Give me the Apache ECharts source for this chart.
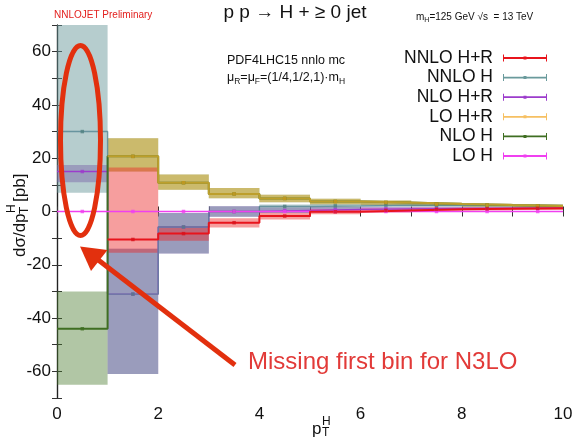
<!DOCTYPE html>
<html>
<head>
<meta charset="utf-8">
<script src="https://cdn.jsdelivr.net/npm/echarts@6/dist/echarts.min.js"></script>
<style>
  html, body { margin: 0; padding: 0; background: #fff; }
  #chart { width: 576px; height: 438px; }
</style>
</head>
<body>
<div id="chart"></div>
<script>
// bins in pT^H (GeV)
const binEdges = [0, 1, 2, 3, 4, 5, 6, 7, 8, 9, 10];

// NNLO H+R (no first bin)
const nnloHR   = [null, -10.5, -8.3, -4.2, -1.7, -0.1, 0.4, 0.8, 1.0, 1.2];
const nnloHRLo = [null, -15.5, -11, -6, -3, -1, -0.4, 0.1, 0.4, 0.6];
const nnloHRHi = [null, 16.5, -5.5, -2.5, -0.5, 0.8, 1.1, 1.4, 1.5, 1.7];

// NNLO H
const nnloH   = [30, -31, -5.8, 0, 1.9, 2.1, 2.4, 2.3, 2.2, 2.0];
const nnloHLo = [7, -61, -15.8, -2, -0.6, 1.0, 1.6, 1.7, 1.7, 1.6];
const nnloHHi = [90, -14, -0.6, 2, 2.6, 2.8, 3.0, 2.9, 2.8, 2.6];

// NLO H+R
const nloHR   = [15, -31, -5.8, 0, 0.4, 0.8, 1.0, 1.1, 1.2, 1.3];
const nloHRLo = [11, -61, -15.8, -2, -0.6, 0.2, 0.5, 0.7, 0.8, 0.9];
const nloHRHi = [17.5, -14, -0.6, 2, 1.5, 1.7, 1.7, 1.7, 1.7, 1.7];

// LO H+R (no first bin)
const loHR   = [null, 20.7, 10.8, 6.6, 4.9, 3.75, 3.4, 2.8, 2.4, 2.1];
const loHRLo = [null, 15, 8.2, 5.0, 3.5, 2.7, 2.5, 2.1, 1.9, 1.7];
const loHRHi = [null, 27.5, 13.9, 8.8, 6.3, 4.8, 4.1, 3.4, 2.9, 2.6];

// NLO H
const nloH   = [-44, 20.7, 10.8, 6.6, 4.9, 3.75, 3.4, 2.8, 2.4, 2.1];
const nloHLo = [-65, 15, 8.2, 5.0, 3.5, 2.7, 2.5, 2.1, 1.9, 1.7];
const nloHHi = [-30, 27.5, 13.9, 8.8, 6.3, 4.8, 4.1, 3.4, 2.9, 2.6];

// LO H
const loH = [0, 0, 0, 0, 0, 0, 0, 0, 0, 0];

const xTicks = [0, 2, 4, 6, 8, 10];
const yTicks = [-60, -40, -20, 0, 20, 40, 60];

const FONT = "'Liberation Sans', Arial, Helvetica, sans-serif";

function stepData(vals) {
  const pts = [];
  vals.forEach((v, i) => {
    if (v == null) return;
    pts.push([binEdges[i], v], [binEdges[i + 1], v]);
  });
  return pts;
}
function pointData(vals) {
  const pts = [];
  vals.forEach((v, i) => {
    if (v == null) return;
    pts.push([(binEdges[i] + binEdges[i + 1]) / 2, v]);
  });
  return pts;
}
function bandData(lo, hi) {
  const out = [];
  lo.forEach((l, i) => {
    if (l == null) return;
    out.push([binEdges[i], binEdges[i + 1], l, hi[i]]);
  });
  return out;
}

function bandSeries(name, lo, hi, fill, z) {
  return {
    name: name,
    type: 'custom',
    z: z,
    silent: true,
    data: bandData(lo, hi),
    encode: { x: [0, 1], y: [2, 3] },
    renderItem: function (params, api) {
      const p0 = api.coord([api.value(0), api.value(3)]);
      const p1 = api.coord([api.value(1), api.value(2)]);
      const rect = echarts.graphic.clipRectByRect(
        { x: p0[0], y: p0[1], width: p1[0] - p0[0], height: p1[1] - p0[1] },
        { x: params.coordSys.x, y: params.coordSys.y, width: params.coordSys.width, height: params.coordSys.height }
      );
      return rect && { type: 'rect', shape: rect, style: { fill: fill } };
    }
  };
}

function stepSeries(name, vals, color, width, legendColor, z, opacity) {
  return {
    name: name,
    type: 'line',
    z: z,
    data: stepData(vals),
    showSymbol: false,
    symbol: 'none',
    silent: true,
    itemStyle: { color: legendColor },
    lineStyle: { color: color, width: width, opacity: opacity == null ? 1 : opacity }
  };
}

function pointSeries(name, vals, color, z) {
  return {
    name: name,
    type: 'scatter',
    z: z,
    silent: true,
    symbol: 'rect',
    symbolSize: 3.5,
    data: pointData(vals),
    itemStyle: { color: color }
  };
}

const icon = 'path://M0,2.6h44v1.8H0z M0,0h1v7H0z M43,0h1v7h-1z M20.5,2h3v3h-3z';

const chart = echarts.init(document.getElementById('chart'), null, { renderer: 'canvas' });

const option = {
  animation: false,
  backgroundColor: '#fff',
  textStyle: { fontFamily: FONT },
  grid: { left: 57, right: 13, top: 25, bottom: 40, outerBoundsMode: 'none' },
  xAxis: [{
    type: 'value', min: 0, max: 10, interval: 1,
    axisLine: { show: true, lineStyle: { color: '#222', width: 1.2 } },
    axisTick: { show: true, inside: true, length: 5, lineStyle: { color: '#333' } },
    axisLabel: {
      fontSize: 17, color: '#111', margin: 8, fontFamily: FONT,
      formatter: v => (xTicks.indexOf(v) >= 0 ? String(v) : '')
    },
    splitLine: { show: false }
  }, {
    type: 'value', min: 0, max: 10, interval: 1, position: 'top',
    axisLine: { show: true, lineStyle: { color: '#222', width: 1.2 } },
    axisTick: { show: true, inside: true, length: 5, lineStyle: { color: '#333' } },
    axisLabel: { show: false },
    splitLine: { show: false }
  }],
  yAxis: [{
    type: 'value', min: -70, max: 70, interval: 10,
    axisLine: { show: true, lineStyle: { color: '#222', width: 1.2 } },
    axisTick: { show: true, inside: true, length: 5, lineStyle: { color: '#333' } },
    axisLabel: {
      fontSize: 17, color: '#111', margin: 6, fontFamily: FONT,
      formatter: v => (yTicks.indexOf(v) >= 0 ? String(v) : '')
    },
    splitLine: { show: false }
  }, {
    type: 'value', min: -70, max: 70, interval: 10, position: 'right',
    axisLine: { show: true, lineStyle: { color: '#222', width: 1.2 } },
    axisTick: { show: true, inside: true, length: 5, lineStyle: { color: '#333' } },
    axisLabel: { show: false },
    splitLine: { show: false }
  }],
  legend: {
    orient: 'vertical',
    right: 24,
    top: 44,
    align: 'right',
    itemWidth: 44,
    itemHeight: 7,
    itemGap: 1.6,
    icon: icon,
    selectedMode: false,
    itemStyle: { borderWidth: 0 },
    textStyle: { fontSize: 17.5, color: '#111', fontFamily: FONT, padding: [0, 5, 0, 0] },
    data: [
      { name: 'NNLO H+R', itemStyle: { color: '#e8141c' } },
      { name: 'NNLO H', itemStyle: { color: '#6a9a9c' } },
      { name: 'NLO H+R', itemStyle: { color: '#9c3ccc' } },
      { name: 'LO H+R', itemStyle: { color: '#f6c062' } },
      { name: 'NLO H', itemStyle: { color: '#3f6e22' } },
      { name: 'LO H', itemStyle: { color: '#f040f0' } }
    ]
  },
  series: [
    bandSeries('band NLO H+R', nloHRLo, nloHRHi, 'rgba(150,70,190,0.5)', 1),
    bandSeries('band NNLO H', nnloHLo, nnloHHi, 'rgba(100,148,150,0.47)', 2),
    bandSeries('band NLO H', nloHLo, nloHHi, 'rgba(70,120,40,0.42)', 3),
    bandSeries('band LO H+R', loHRLo, loHRHi, 'rgba(235,170,40,0.45)', 4),
    bandSeries('band NNLO H+R', nnloHRLo, nnloHRHi, 'rgba(235,40,40,0.45)', 5),

    stepSeries('NLO H+R', nloHR, '#9c3ccc', 1.4, '#9c3ccc', 10),
    stepSeries('NNLO H', nnloH, '#5b8a96', 1.4, '#6a9a9c', 11, 0.85),
    stepSeries('NLO H', nloH, '#3f6e22', 2, '#3f6e22', 12),
    stepSeries('LO H+R', loHR, '#e8b030', 2, '#f6c062', 13, 0.75),
    stepSeries('LO H', loH, '#f040f0', 1.3, '#f040f0', 14),
    stepSeries('NNLO H+R', nnloHR, '#e8141c', 2, '#e8141c', 15),

    pointSeries('pt NLO H+R', nloHR, '#9c3ccc', 20),
    pointSeries('pt NNLO H', nnloH, '#4f8080', 21),
    pointSeries('pt NLO H', nloH, '#3f6e22', 22),
    pointSeries('pt LO H+R', loHR, '#d8a020', 23),
    pointSeries('pt LO H', loH, '#f040f0', 24),
    pointSeries('pt NNLO H+R', nnloHR, '#d8101a', 25)
  ],
  graphic: [
    // header
    { type: 'text', left: 54, top: 10, silent: true,
      style: { text: 'NNLOJET Preliminary', font: '10px ' + FONT, fill: '#e3201e' } },
    { type: 'text', x: 295, y: 13, silent: true,
      style: { text: 'p p → H + ≥ 0 jet', font: '19px ' + FONT, fill: '#111', align: 'center', verticalAlign: 'middle' } },
    { type: 'text', x: 416, y: 10, silent: true,
      style: {
        text: '{n|m}{s|H}{n|=125 GeV √s  = 13 TeV}',
        fill: '#111',
        rich: {
          n: { fontSize: 10, fontFamily: FONT, fill: '#111', lineHeight: 14, verticalAlign: 'middle' },
          s: { fontSize: 7, fontFamily: FONT, fill: '#111', lineHeight: 14, verticalAlign: 'bottom' }
        }
      } },
    // inner labels
    { type: 'text', x: 227, y: 54, silent: true,
      style: { text: 'PDF4LHC15 nnlo mc', font: '12.5px ' + FONT, fill: '#111' } },
    { type: 'text', x: 227, y: 69, silent: true,
      style: {
        text: '{n|μ}{s|R}{n|=μ}{s|F}{n|=(1/4,1/2,1)·m}{s|H}',
        rich: {
          n: { fontSize: 12.5, fontFamily: FONT, fill: '#111', lineHeight: 17, verticalAlign: 'middle' },
          s: { fontSize: 8.5, fontFamily: FONT, fill: '#111', lineHeight: 17, verticalAlign: 'bottom' }
        }
      } },
    // y axis title
    { type: 'group', x: 20, y: 212, rotation: Math.PI / 2, silent: true,
      children: [
        { type: 'text', x: -45, y: 0, style: { text: 'dσ/dp', font: '17px ' + FONT, fill: '#111', verticalAlign: 'middle' } },
        { type: 'text', x: -2, y: 5, style: { text: 'T', font: '12px ' + FONT, fill: '#111', verticalAlign: 'middle' } },
        { type: 'text', x: -1, y: -8, style: { text: 'H', font: '12px ' + FONT, fill: '#111', verticalAlign: 'middle' } },
        { type: 'text', x: 10, y: 0, style: { text: '[pb]', font: '17px ' + FONT, fill: '#111', verticalAlign: 'middle' } }
      ] },
    // x axis title
    { type: 'text', x: 312, y: 429, silent: true,
      style: { text: 'p', font: '17px ' + FONT, fill: '#111', verticalAlign: 'middle' } },
    { type: 'text', x: 322, y: 422, silent: true,
      style: { text: 'H', font: '12px ' + FONT, fill: '#111', verticalAlign: 'middle' } },
    { type: 'text', x: 322, y: 433, silent: true,
      style: { text: 'T', font: '12px ' + FONT, fill: '#111', verticalAlign: 'middle' } },
    // annotation
    { type: 'ellipse', silent: true, z: 100,
      shape: { cx: 80.5, cy: 140.5, rx: 20, ry: 95 },
      style: { fill: 'none', stroke: '#e2300e', lineWidth: 5 } },
    { type: 'line', silent: true, z: 100,
      shape: { x1: 235, y1: 365, x2: 97, y2: 259 },
      style: { stroke: '#e2300e', lineWidth: 5 } },
    { type: 'polygon', silent: true, z: 100,
      shape: { points: [[80, 246.5], [91, 271], [107.5, 250]] },
      style: { fill: '#e2300e' } },
    { type: 'text', x: 248, y: 362, silent: true, z: 100,
      style: { text: 'Missing first bin for N3LO', font: '24px ' + FONT, fill: '#e23a38', verticalAlign: 'middle' } }
  ]
};

chart.setOption(option);
</script>
</body>
</html>
